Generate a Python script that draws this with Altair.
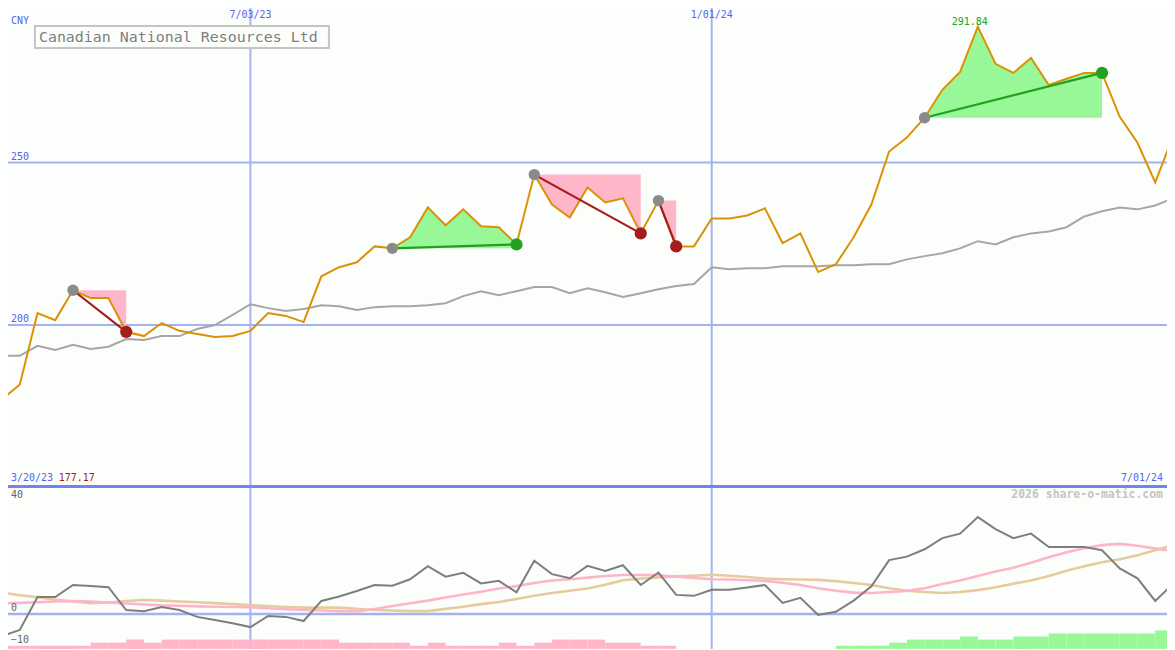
import altair as alt
import pandas as pd

# ---------------- data ----------------
weeks = list(range(67))
price = [177.17, 181.6, 203.7, 201.5, 210.7, 208.3, 208.3, 197.9, 196.6, 200.6,
         198.2, 197.2, 196.3, 196.6, 198.2, 203.7, 202.8, 200.9, 215.0, 217.8,
         219.3, 224.2, 223.6, 227.0, 236.2, 230.7, 235.6, 230.4, 230.1, 224.8,
         246.3, 237.1, 233.1, 242.3, 237.7, 239.0, 228.2, 238.3, 224.2, 224.2,
         232.8, 232.8, 233.7, 235.9, 225.2, 228.2, 216.3, 218.7, 227.0, 237.1,
         253.4, 257.7, 263.8, 272.4, 277.9, 291.84, 280.4, 277.6, 282.2, 273.9,
         275.8, 277.6, 277.6, 264.1, 256.1, 243.9, 258.0]
bench = [190.5, 190.5, 193.6, 192.3, 193.9, 192.6, 193.3, 195.7, 195.4, 196.6,
         196.6, 198.8, 200.0, 203.1, 206.4, 205.2, 204.3, 204.9, 206.1, 205.8,
         204.6, 205.5, 205.8, 205.8, 206.1, 206.7, 208.9, 210.4, 209.2, 210.4,
         211.7, 211.7, 209.8, 211.3, 210.1, 208.6, 209.8, 211.0, 212.0, 212.6,
         217.8, 217.2, 217.5, 217.5, 218.1, 218.1, 218.1, 218.4, 218.4, 218.7,
         218.7, 220.2, 221.2, 222.1, 223.6, 225.8, 224.8, 227.0, 228.2, 228.8,
         230.1, 233.4, 235.0, 236.2, 235.6, 236.8, 239.0]
momentum = [-6.9, -5.0, 5.3, 5.3, 9.1, 8.8, 8.4, 1.25, 0.9, 2.2,
            1.25, -0.9, -1.9, -2.9, -4.1, -0.6, -0.9, -2.2, 4.1, 5.5,
            7.2, 9.1, 8.9, 10.9, 15.0, 11.7, 12.9, 9.6, 10.4, 6.8,
            16.7, 12.5, 11.2, 15.1, 13.5, 15.3, 9.1, 13.0, 6.0, 5.7,
            7.6, 7.6, 8.3, 9.1, 3.5, 5.1, -0.3, 0.7, 4.2, 8.7,
            16.9, 18.0, 20.3, 23.8, 25.2, 30.4, 26.6, 23.8, 25.2, 21.0,
            21.0, 21.0, 20.0, 14.3, 11.2, 4.1, 9.4]
ma_fast = [3.3, 3.5, 3.7, 3.9, 4.1, 3.9, 3.6, 3.3, 3.0, 2.7,
           2.6, 2.4, 2.3, 2.2, 2.1, 1.8, 1.5, 1.25, 1.1, 0.9,
           0.8, 1.6, 2.5, 3.4, 4.2, 5.2, 6.1, 7.0, 8.0, 8.75,
           9.7, 10.5, 10.9, 11.4, 11.9, 12.25, 12.25, 12.2, 11.7, 11.3,
           10.9, 10.8, 10.6, 10.4, 9.8, 9.1, 8.1, 7.3, 6.7, 6.6,
           6.9, 7.25, 8.1, 9.4, 10.5, 11.9, 13.3, 14.5, 16.1, 17.8,
           19.4, 20.6, 21.6, 22.0, 21.4, 20.5, 19.8]
ma_slow = [6.7, 5.9, 5.3, 4.5, 3.9, 3.4, 3.6, 4.1, 4.4, 4.2,
           3.9, 3.7, 3.4, 3.1, 2.8, 2.5, 2.2, 2.0, 2.0, 2.0,
           1.6, 1.25, 1.1, 0.9, 0.9, 1.6, 2.3, 3.1, 3.75, 4.7,
           5.7, 6.6, 7.3, 8.0, 9.2, 10.6, 11.1, 11.5, 11.8, 12.0,
           12.3, 12.0, 11.6, 11.1, 10.9, 10.8, 10.7, 10.3, 9.7, 9.1,
           8.1, 7.3, 6.9, 6.6, 6.9, 7.5, 8.4, 9.5, 10.5, 11.9,
           13.6, 15.0, 16.25, 17.2, 18.4, 20.0, 21.6]
bar_level = [-1, -1, -1, -1, -1, -2, -2, -3, -2, -3,
             -3, -3, -3, -3, -3, -3, -3, -3, -3, -2,
             -2, -2, -2, -1, -2, -1, -1, -1, -2, -1,
             -2, -3, -3, -3, -2, -2, -1, -1, 0, 0,
             0, 0, 0, 0, 0, 0, 0, 1, 1, 1,
             2, 3, 3, 3, 4, 3, 3, 4, 4, 5,
             5, 5, 5, 5, 5, 6, 6]

sig_start = [4, 22, 30, 37, 52]
sig_end = [7, 29, 36, 38, 62]
sig_kind = ["down", "up", "down", "down", "up"]

grid_weeks = [14, 40]
grid_labels = ["7/03/23", "1/01/24"]
price_ticks = [200, 250]
first_date = "3/20/23"
last_date = "7/01/24"
min_label = "177.17"
max_label = "291.84"
max_week = 55
currency = "CNY"
title = "Canadian National Resources Ltd"
credit = "2026 share-o-matic.com"

# ---------------- styling ----------------
BG = "#FCFEFC"
GRID = "#A4B2F2"
SEP = "#7484EE"
BLUE_TXT = "#5464EE"
ORANGE = "#DC9104"
PINK = "#FFB6C9"
GREEN = "#98F898"
DRED = "#A41C1C"
DGREEN = "#22A022"
MONO = "DejaVu Sans Mono"
W = 1175
H_TOP = 487
H_BOT = 163

df = pd.DataFrame({"week": weeks, "price": price, "bench": bench,
                   "mom": momentum, "fast": ma_fast, "slow": ma_slow,
                   "lvl": bar_level})
df["week2"] = df["week"] + 1
df["side"] = ["up" if v > 0 else "down" for v in bar_level]
bars_df = df[df["lvl"] != 0]

rows = []
for n, (s, e, k) in enumerate(zip(sig_start, sig_end, sig_kind)):
    for w in range(s, e + 1):
        rows.append({"sig": n, "week": w, "price": price[w], "base": price[s], "kind": k})
area_df = pd.DataFrame(rows)
sig_df = pd.DataFrame({"ws": sig_start, "we": sig_end,
                       "ps": [price[s] for s in sig_start],
                       "pe": [price[e] for e in sig_end],
                       "kind": sig_kind})
grid_df = pd.DataFrame({"week": grid_weeks, "label": grid_labels})
tick_df = pd.DataFrame({"v": price_ticks})

xs = alt.Scale(domain=[0, 66], nice=False, zero=False)
yt = alt.Scale(domain=[150.3, 299.7], nice=False, zero=False)
yb = alt.Scale(domain=[-10.94, 40], nice=False, zero=False)
kind_fill = alt.Scale(domain=["down", "up"], range=[PINK, GREEN])
kind_line = alt.Scale(domain=["down", "up"], range=[DRED, DGREEN])


def X(field):
    return alt.X(field, type="quantitative", scale=xs, axis=None)


def YT(field):
    return alt.Y(field, type="quantitative", scale=yt, axis=None)


def YB(field):
    return alt.Y(field, type="quantitative", scale=yb, axis=None)


base = alt.Chart(df)

# ---------------- top panel ----------------
vrules_t = alt.Chart(grid_df).mark_rule(color=GRID, strokeWidth=2, clip=True).encode(x=X("week"))
hrules_t = alt.Chart(tick_df).mark_rule(color=GRID, strokeWidth=2, clip=True).encode(y=YT("v"))
date_txt = alt.Chart(grid_df).mark_text(font=MONO, fontSize=10, color=BLUE_TXT,
                                        baseline="middle").encode(
    x=X("week"), y=alt.value(14), text="label:N")
tick_txt = alt.Chart(tick_df).mark_text(font=MONO, fontSize=10, color=BLUE_TXT,
                                        align="left", baseline="middle", dy=-6).encode(
    x=alt.value(9), y=YT("v"), text="v:Q")
bench_line = base.mark_line(color="#A6A6A6", strokeWidth=2, clip=True).encode(
    x=X("week"), y=YT("bench"))
areas = alt.Chart(area_df).mark_area(clip=True, opacity=1).encode(
    x=X("week"), y=YT("price"), y2="base:Q",
    color=alt.Color("kind:N", scale=kind_fill, legend=None), detail="sig:N")
price_line = base.mark_line(color=ORANGE, strokeWidth=2, clip=True).encode(
    x=X("week"), y=YT("price"))
sig_rules = alt.Chart(sig_df).mark_rule(strokeWidth=2.2).encode(
    x=X("ws"), x2="we:Q", y=YT("ps"), y2="pe:Q",
    color=alt.Color("kind:N", scale=kind_line, legend=None))
start_dots = alt.Chart(sig_df).mark_circle(size=130, color="#8A8A8A", opacity=1).encode(
    x=X("ws"), y=YT("ps"))
end_dots = alt.Chart(sig_df).mark_circle(size=150, opacity=1).encode(
    x=X("we"), y=YT("pe"), color=alt.Color("kind:N", scale=kind_line, legend=None))

info_df = pd.DataFrame({"t": [title]})
title_box = alt.Chart(info_df).mark_rect(fill=BG, stroke="#C4C4C4", strokeWidth=2).encode(
    x=alt.value(33), x2=alt.value(328), y=alt.value(25), y2=alt.value(47))
title_txt = alt.Chart(info_df).mark_text(font=MONO, fontSize=15, color="#7E7E7E",
                                         align="left", baseline="middle").encode(
    x=alt.value(37), y=alt.value(36.5), text="t:N")
cny_txt = alt.Chart(pd.DataFrame({"t": [currency]})).mark_text(
    font=MONO, fontSize=10, color=BLUE_TXT, align="left", baseline="middle").encode(
    x=alt.value(9), y=alt.value(20), text="t:N")
first_txt = alt.Chart(pd.DataFrame({"t": [first_date]})).mark_text(
    font=MONO, fontSize=10, color=BLUE_TXT, align="left", baseline="middle").encode(
    x=alt.value(9), y=alt.value(479), text="t:N")
min_txt = alt.Chart(pd.DataFrame({"t": [min_label]})).mark_text(
    font=MONO, fontSize=10, color=DRED, align="left", baseline="middle").encode(
    x=alt.value(57), y=alt.value(479), text="t:N")
last_txt = alt.Chart(pd.DataFrame({"t": [last_date]})).mark_text(
    font=MONO, fontSize=10, color=BLUE_TXT, align="right", baseline="middle").encode(
    x=alt.value(1165), y=alt.value(479), text="t:N")
max_txt = alt.Chart(pd.DataFrame({"t": [max_label], "week": [max_week]})).mark_text(
    font=MONO, fontSize=10, color=DGREEN, baseline="middle", dx=-8).encode(
    x=X("week"), y=alt.value(21), text="t:N")

top = alt.layer(vrules_t, hrules_t, bench_line, areas, price_line, sig_rules,
                start_dots, end_dots, date_txt, tick_txt, title_box, title_txt,
                cny_txt, first_txt, min_txt, last_txt, max_txt).resolve_scale(
    color="independent").properties(width=W, height=H_TOP)

# ---------------- bottom panel ----------------
vrules_b = alt.Chart(grid_df).mark_rule(color=GRID, strokeWidth=2, clip=True).encode(x=X("week"))
zero_rule = alt.Chart(pd.DataFrame({"v": [0]})).mark_rule(
    color=GRID, strokeWidth=2.5, clip=True).encode(y=YB("v"))
bars = alt.Chart(bars_df).transform_calculate(
    top="-10.94 + abs(datum.lvl) * 0.97").mark_rect(clip=True).encode(
    x=X("week"), x2="week2:Q", y=YB("top"), y2=alt.datum(-10.94),
    color=alt.Color("side:N", scale=kind_fill, legend=None))
slow_line = base.mark_line(color="#E6CC9C", strokeWidth=2.6, clip=True).encode(
    x=X("week"), y=YB("slow"))
fast_line = base.mark_line(color="#FFB4CA", strokeWidth=2.6, clip=True).encode(
    x=X("week"), y=YB("fast"))
mom_line = base.mark_line(color="#7E7E7E", strokeWidth=2, clip=True).encode(
    x=X("week"), y=YB("mom"))
sep_rule = alt.Chart(pd.DataFrame({"v": [40]})).mark_rule(color=SEP, strokeWidth=3).encode(
    y=YB("v"))
lab40 = alt.Chart(pd.DataFrame({"v": [40]})).mark_text(
    font=MONO, fontSize=10, color="#666666", align="left", baseline="middle", dy=9).encode(
    x=alt.value(9), y=YB("v"), text="v:Q")
lab_low = alt.Chart(pd.DataFrame({"v": [0, -10]})).mark_text(
    font=MONO, fontSize=10, color="#666666", align="left", baseline="middle", dy=-6).encode(
    x=alt.value(9), y=YB("v"), text="v:Q")
credit_txt = alt.Chart(pd.DataFrame({"t": [credit]})).mark_text(
    font=MONO, fontSize=11.5, fontWeight="bold", color="#C4C4C4",
    align="right", baseline="middle").encode(
    x=alt.value(1165), y=alt.value(9), text="t:N")

bottom = alt.layer(vrules_b, zero_rule, bars, slow_line, fast_line, mom_line,
                   sep_rule, lab40, lab_low, credit_txt).properties(
    width=W, height=H_BOT)

chart = alt.vconcat(top, bottom, spacing=0, bounds="flush").properties(
    padding={"left": -8, "top": -8, "right": -8, "bottom": 0},
    background=BG,
).configure_view(stroke=None).configure_concat(spacing=0)

chart.save("out.html", embed_options={"renderer": "svg", "actions": False})
